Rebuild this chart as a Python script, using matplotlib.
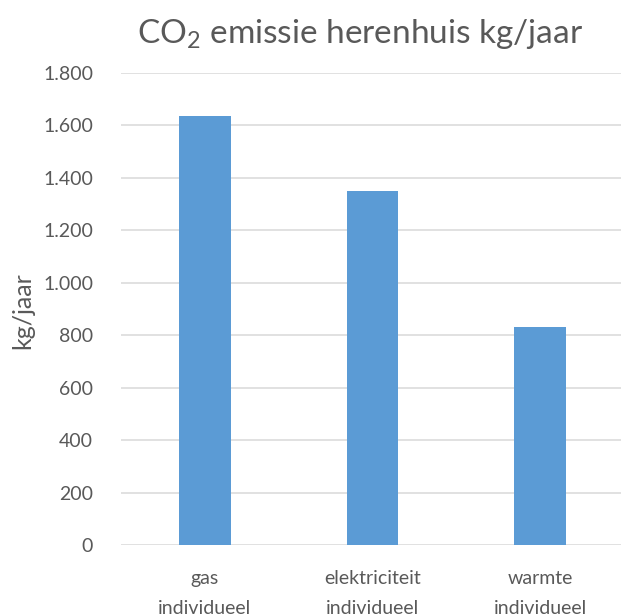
import matplotlib
matplotlib.use("Agg")
import matplotlib.pyplot as plt
from matplotlib.ticker import FuncFormatter

categories = ["gas\nindividueel", "elektriciteit\nindividueel", "warmte\nindividueel"]
emissions = [1635, 1350, 830]
y_ticks = [0, 200, 400, 600, 800, 1000, 1200, 1400, 1600, 1800]

text_color = "#595959"
bar_color = "#5B9BD5"
grid_color = "#D9D9D9"

plt.rcParams["font.family"] = ["Lato", "DejaVu Sans"]
plt.rcParams["mathtext.fontset"] = "custom"
plt.rcParams["mathtext.rm"] = "Lato"

fig = plt.figure(figsize=(6.21, 6.14), dpi=100)
W, H = 621, 614
left, right = 121, 624
bottom, top = 545, 73
ax = fig.add_axes([left / W, 1 - bottom / H, (right - left) / W, (bottom - top) / H])

x = range(len(categories))
ax.bar(x, emissions, width=0.31, color=bar_color, zorder=3)

ax.set_xlim(-0.5, len(categories) - 0.5)
ax.set_ylim(0, 1800)
ax.set_yticks(y_ticks)
ax.yaxis.set_major_formatter(FuncFormatter(lambda v, p: f"{int(v):,}".replace(",", ".")))
ax.set_xticks(list(x))
ax.set_xticklabels(categories, linespacing=1.95)

ax.grid(axis="y", color=grid_color, linewidth=1.1, zorder=0)
for s in ax.spines.values():
    s.set_visible(False)
ax.tick_params(axis="both", length=0, labelsize=14, colors=text_color)
ax.tick_params(axis="y", pad=20)
ax.tick_params(axis="x", pad=18)

fig.text(23 / W, 1 - 311 / H, "kg/jaar", rotation=90, ha="center", va="center",
         fontsize=18, color=text_color)
fig.text(360 / W, 1 - 43 / H, r"CO$_\mathregular{2}$ emissie herenhuis kg/jaar",
         ha="center", va="baseline", fontsize=24, color=text_color)

fig.savefig("out.png", dpi=100, facecolor="white")
